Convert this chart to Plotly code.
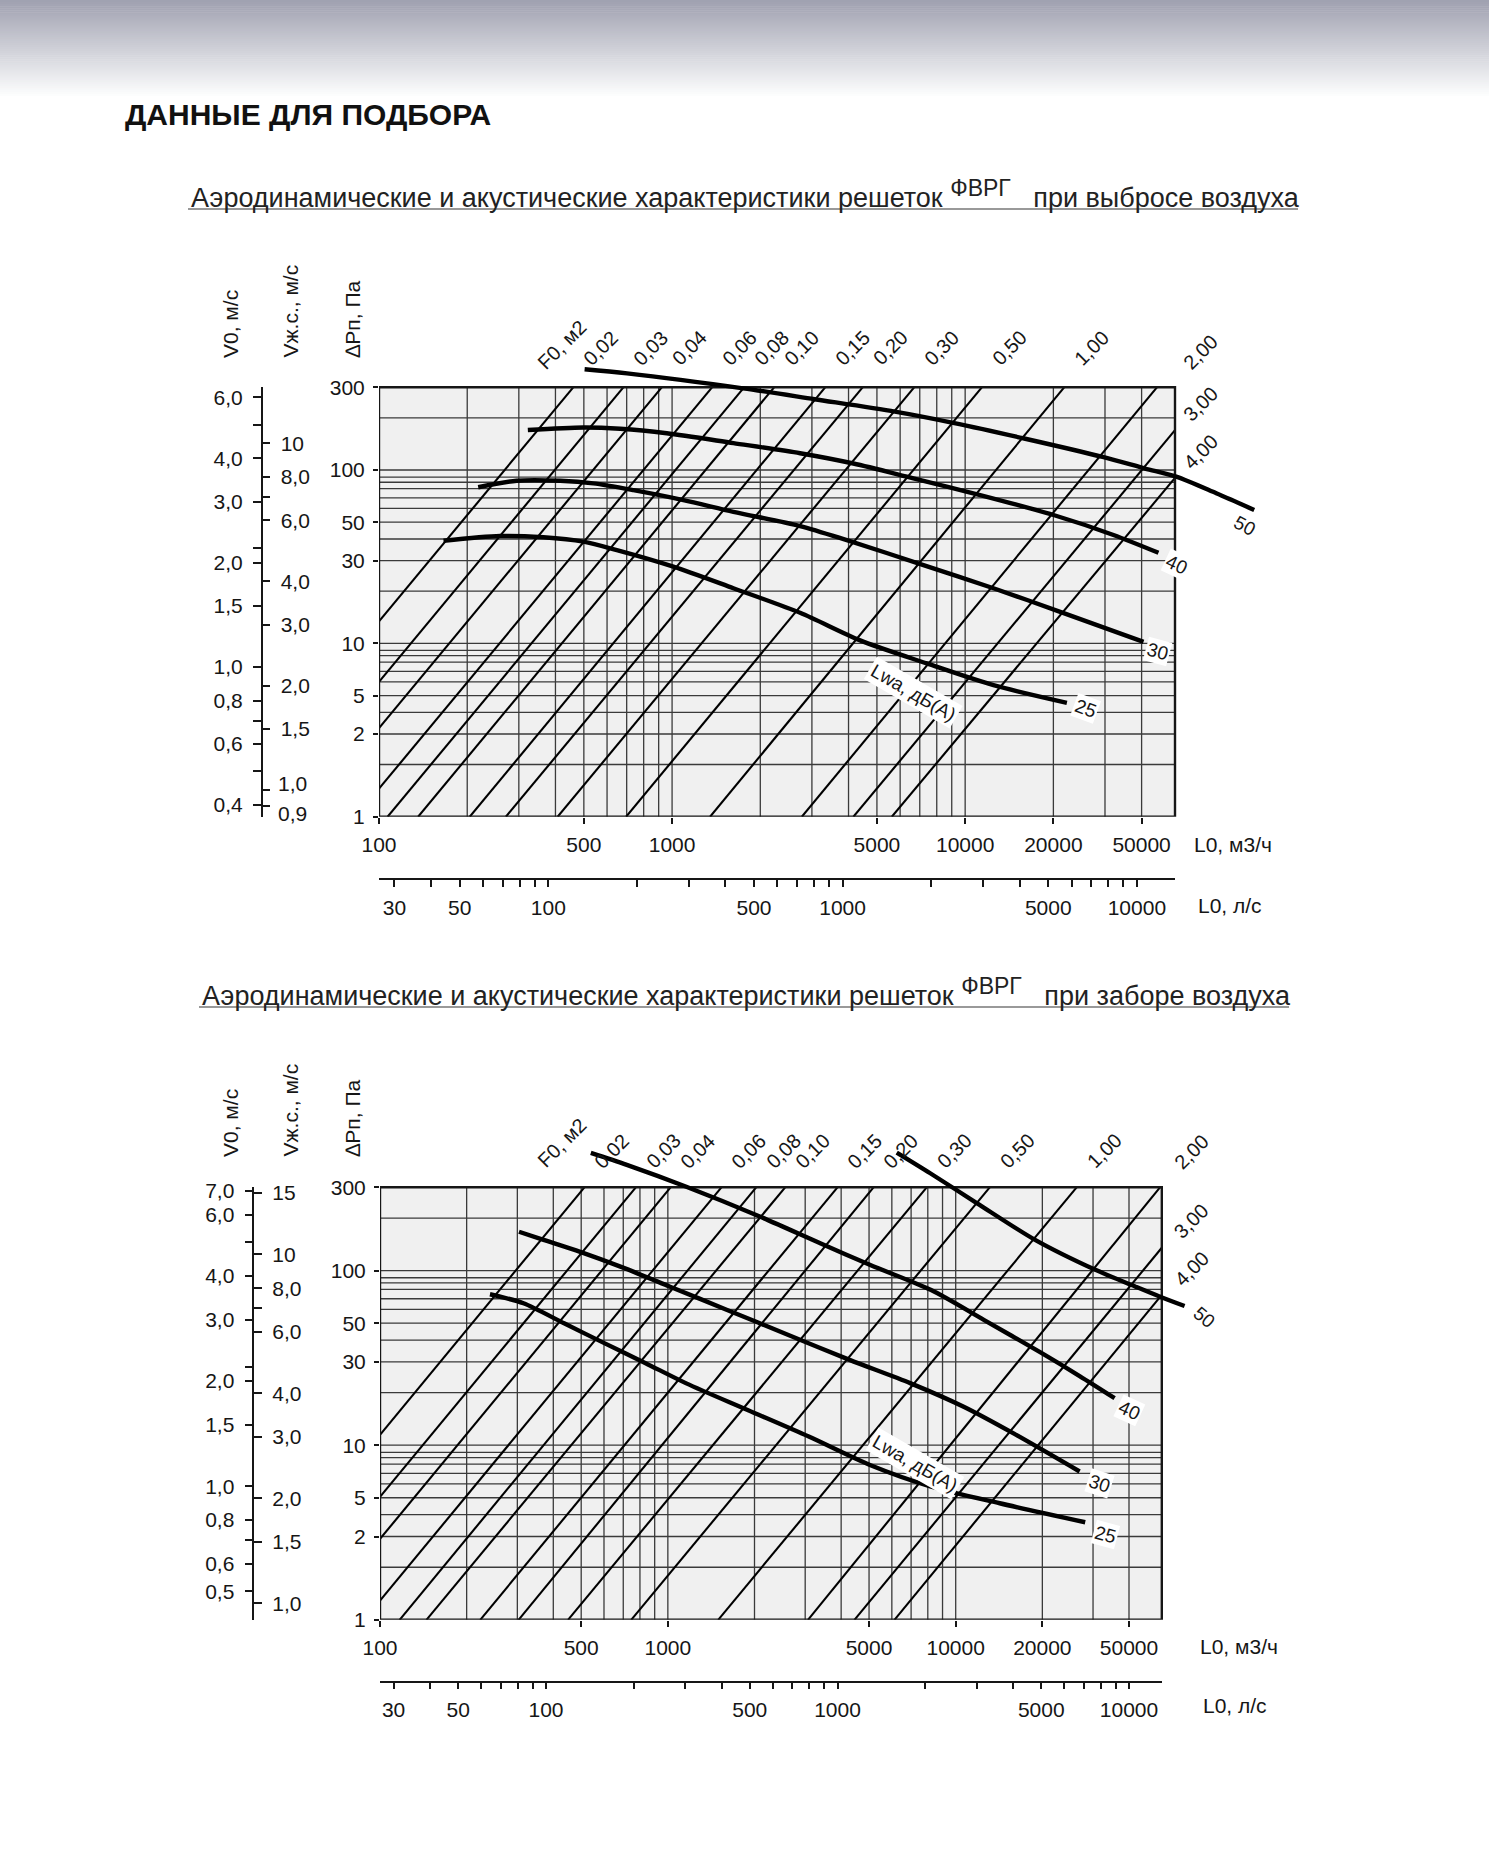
import math
import plotly.graph_objects as go

# ---------------- data ----------------
F0_LABELS = ["0,02", "0,03", "0,04", "0,06", "0,08", "0,10", "0,15",
             "0,20", "0,30", "0,50", "1,00", "2,00", "3,00", "4,00"]

# L0 (m3/h) where each F0 line reaches dPn = 300 Pa and dPn = 1 Pa
SUPPLY_F0_L_300PA = [460, 682, 922, 1369, 1761, 2229, 3329, 4468, 6698, 11400, 21770, 45110, 68800, 94300]
SUPPLY_F0_L_1PA = [28.0, 41.5, 56.1, 83.3, 107, 136, 204, 271, 407, 697, 1348, 2772, 4157, 5621]
EXHAUST_F0_L_300PA = [513, 774, 1022, 1535, 2027, 2556, 3884, 5183, 7931, 13130, 26310, 51260, 77560, 105600]
EXHAUST_F0_L_1PA = [29.5, 44.4, 58.6, 88.1, 117, 145, 223, 303, 450, 746, 1496, 3068, 4449, 6127]

LWA_LEVELS = ["50", "40", "30", "25"]

# supply (при выбросе воздуха) Lwa curves: L0 m3/h, dPn Pa
SUPPLY_LWA50_L = [503, 702, 1747, 3064, 5760, 9093, 15900, 29440, 41090, 52500, 71900, 96900]
SUPPLY_LWA50_DP = [381, 361, 296, 256, 217, 187, 152, 119, 102, 91.5, 73.4, 58.8]
SUPPLY_LWA40_L = [322, 498, 665, 959, 1619, 2734, 4157, 6660, 11250, 20020, 32070, 45670]
SUPPLY_LWA40_DP = [170, 176, 173, 163, 143, 125, 109, 89.5, 71.7, 55.0, 42.2, 33.3]
SUPPLY_LWA30_L = [218, 295, 415, 539, 738, 1093, 1619, 2734, 3947, 7206, 12490, 21100, 40610]
SUPPLY_LWA30_DP = [79.5, 86.7, 86.7, 83.8, 76.6, 67.1, 57.4, 47.5, 39.4, 28.3, 20.8, 15.2, 10.2]
SUPPLY_LWA25_L = [166, 259, 364, 498, 648, 1010, 1619, 2734, 4381, 7401, 12490, 22240]
SUPPLY_LWA25_DP = [39.1, 41.6, 40.9, 38.6, 34.5, 27.7, 20.8, 15.0, 10.4, 7.66, 5.74, 4.54]

# exhaust (при заборе воздуха) Lwa curves
EXHAUST_LWA50_L = [6239, 8156, 11870, 18870, 30560, 42150, 51260, 62400]
EXHAUST_LWA50_DP = [474, 361, 243, 150, 101, 80.9, 70.9, 62.7]
EXHAUST_LWA40_L = [540, 720, 1159, 2086, 3399, 5028, 8214, 12560, 19570, 26950, 35650]
EXHAUST_LWA40_DP = [472, 403, 302, 204, 143, 108, 77.4, 52.1, 34.2, 24.9, 18.6]
EXHAUST_LWA30_L = [304, 370, 496, 688, 1018, 1607, 2623, 4279, 6978, 10660, 16000, 26950]
EXHAUST_LWA30_DP = [167, 150, 128, 105, 80.9, 59.5, 42.8, 30.8, 22.6, 16.6, 11.6, 7.07]
EXHAUST_LWA25_L = [241, 315, 436, 604, 837, 1159, 1893, 3088, 5036, 8214, 14220, 28180]
EXHAUST_LWA25_DP = [73.2, 65.0, 49.9, 38.3, 29.5, 22.6, 15.9, 11.2, 7.70, 5.79, 4.65, 3.62]

# scales
L_MIN, L_MAX = 100, 52000
DP_MIN, DP_MAX = 1, 300
L_GRID = [200, 300, 400, 500, 600, 700, 800, 900, 1000, 2000, 3000, 4000, 5000,
          6000, 7000, 8000, 9000, 10000, 20000, 30000, 40000]
DP_GRID = [2, 3, 4, 5, 6.0, 6.9, 7.8, 8.5, 9.1, 10, 20, 30, 40, 50, 60, 69, 78, 85, 91, 100, 200]
L_TICKS = [100, 500, 1000, 5000, 10000, 20000, 40000]
L_TICK_TEXT = ["100", "500", "1000", "5000", "10000", "20000", "50000"]
DP_TICKS = [1, 3, 5, 10, 30, 50, 100, 300]
DP_TICK_TEXT = ["1", "2", "5", "10", "30", "50", "100", "300"]
LS_TICKS = [30, 40, 50, 60, 70, 80, 90, 100, 200, 300, 400, 500, 600, 700, 800, 900,
            1000, 2000, 3000, 4000, 5000, 6000, 7000, 8000, 9000, 10000]
LS_TICK_TEXT = ["30", "", "50", "", "", "", "", "100", "", "", "", "500", "", "", "", "",
                "1000", "", "", "", "5000", "", "", "", "", "10000"]
SUPPLY_V0_TICKS = [6.0, 5.0, 4.0, 3.0, 2.2, 2.0, 1.5, 1.0, 0.8, 0.7, 0.6, 0.5, 0.4]
SUPPLY_V0_TEXT = ["6,0", "", "4,0", "3,0", "", "2,0", "1,5", "1,0", "0,8", "", "0,6", "", "0,4"]
SUPPLY_VJS_TICKS = [10, 8.0, 7.0, 6.0, 4.0, 3.0, 2.0, 1.5, 1.0, 0.9]
SUPPLY_VJS_TEXT = ["10", "8,0", "", "6,0", "4,0", "3,0", "2,0", "1,5", "", ""]
SUPPLY_VJS_SEPARATE = [(1.0, "1,0", 6), (0.9, "0,9", -8)]   # labels nudged apart as in the original
EXHAUST_V0_TICKS = [7.0, 6.0, 5.0, 4.0, 3.0, 2.2, 2.0, 1.5, 1.0, 0.8, 0.7, 0.6, 0.5]
EXHAUST_V0_TEXT = ["7,0", "6,0", "", "4,0", "3,0", "", "2,0", "1,5", "1,0", "0,8", "", "0,6", "0,5"]
EXHAUST_VJS_TICKS = [15, 10, 8.0, 7.0, 6.0, 4.0, 3.0, 2.0, 1.5, 1.0]
EXHAUST_VJS_TEXT = ["15", "10", "8,0", "", "6,0", "4,0", "3,0", "2,0", "1,5", "1,0"]

# ---------------- styling / layout ----------------
W, H = 1489, 1850
FONT = "Liberation Sans, Arial, Helvetica, sans-serif"
INK = "#161616"
GRID = "#3a3a3a"
FS = 21


def px(x):
    return x / W


def py(y):
    return 1 - y / H


def akey(name):
    return ("xaxis" if name[0] == "x" else "yaxis") + name[1:]


SUP = "<sup><span style='font-size:23px'>ФВРГ</span></sup>"
CHARTS = [
    dict(x="x", y="y", xls="x2", yv0="y2", yvj="y3",
         frame=(379, 1175, 387.3, 816.7), ext=(1300, 320),
         ls_range=(1.4247, 4.1295), ls_y=879.3, v_x=261.7,
         v0_range=(-0.432, 0.807), vj_range=(-0.0773, 1.1616),
         v0=(SUPPLY_V0_TICKS, SUPPLY_V0_TEXT), vj=(SUPPLY_VJS_TICKS, SUPPLY_VJS_TEXT),
         vj_extra=SUPPLY_VJS_SEPARATE,
         f0=(SUPPLY_F0_L_1PA, SUPPLY_F0_L_300PA), f0_yshift=15, col_xshift=1,
         curves=[(SUPPLY_LWA50_L, SUPPLY_LWA50_DP), (SUPPLY_LWA40_L, SUPPLY_LWA40_DP),
                 (SUPPLY_LWA30_L, SUPPLY_LWA30_DP), (SUPPLY_LWA25_L, SUPPLY_LWA25_DP)],
         lab_style=[(-10, -16, 28), (18, -12, 25), (14, -10, 15), (19, -6, 20)],
         lwa_label=(913, 693),
         subtitle="Аэродинамические и акустические характеристики решеток " + SUP + "\u00a0\u00a0 при выбросе воздуха",
         sub_pos=(189, 194, 1298, 209),
         titles_bottom=360, f0_title=(530, 376),
         unit_m3=(1192, 844), unit_ls=(1196, 905)),
    dict(x="x3", y="y4", xls="x4", yv0="y5", yvj="y6",
         frame=(380, 1161.8, 1187.3, 1619.8), ext=(1300, 1120),
         ls_range=(1.4305, 4.1125), ls_y=1681.5, v_x=253.3,
         v0_range=(-0.3825, 0.8561), vj_range=(-0.0467, 1.1919),
         v0=(EXHAUST_V0_TICKS, EXHAUST_V0_TEXT), vj=(EXHAUST_VJS_TICKS, EXHAUST_VJS_TEXT),
         vj_extra=[],
         f0=(EXHAUST_F0_L_1PA, EXHAUST_F0_L_300PA), f0_yshift=12, col_xshift=5,
         curves=[(EXHAUST_LWA50_L, EXHAUST_LWA50_DP), (EXHAUST_LWA40_L, EXHAUST_LWA40_DP),
                 (EXHAUST_LWA30_L, EXHAUST_LWA30_DP), (EXHAUST_LWA25_L, EXHAUST_LWA25_DP)],
         lab_style=[(20, -11, 40), (15, -12, 25), (20, -12, 18), (20, -12, 15)],
         lwa_label=(915, 1500),
         subtitle="Аэродинамические и акустические характеристики решеток " + SUP + "\u00a0\u00a0 при заборе воздуха",
         sub_pos=(200, 992, 1289, 1007),
         titles_bottom=1159, f0_title=(530, 1174),
         unit_m3=(1198, 1646), unit_ls=(1201, 1705)),
]

fig = go.Figure()
layout = {}
annotations = []
shapes = []

# gradient band at the top of the page
n_bands = 48
for i in range(n_bands):
    t = i / (n_bands - 1)
    c = [int(160 + (255 - 160) * t), int(162 + (255 - 162) * t), int(177 + (255 - 177) * t)]
    y0 = 98 * i / n_bands
    y1 = 98 * (i + 1) / n_bands + 0.6
    shapes.append(dict(type="rect", xref="paper", yref="paper", x0=0, x1=1, y0=py(y1), y1=py(y0),
                       fillcolor=f"rgb({c[0]},{c[1]},{c[2]})", line=dict(width=0), layer="below"))

annotations.append(dict(text="<b>ДАННЫЕ ДЛЯ ПОДБОРА</b>", xref="paper", yref="paper",
                        x=px(123), y=py(114), xanchor="left", yanchor="middle", showarrow=False,
                        font=dict(family=FONT, size=30, color="#111")))

lx0, lx1 = math.log10(L_MIN), math.log10(L_MAX)
ly0, ly1 = math.log10(DP_MIN), math.log10(DP_MAX)

for cfg in CHARTS:
    ax, ay = cfg["x"], cfg["y"]
    x0, x1, yt, yb = cfg["frame"]
    xe, ye = cfg["ext"]
    ppx = (x1 - x0) / (lx1 - lx0)
    ppy = (yb - yt) / (ly1 - ly0)
    tick_font = dict(family=FONT, size=FS, color=INK)

    layout[akey(ax)] = dict(type="log", domain=[px(x0), px(xe)], range=[lx0, lx0 + (xe - x0) / ppx],
                            anchor=ay, showgrid=False, zeroline=False, showline=False, automargin=False,
                            ticks="outside", ticklen=6, tickwidth=1.5, tickcolor=INK,
                            tickvals=L_TICKS, ticktext=L_TICK_TEXT, tickfont=tick_font,
                            ticklabelstandoff=3)
    layout[akey(ay)] = dict(type="log", domain=[py(yb), py(ye)], range=[ly0, ly0 + (yb - ye) / ppy],
                            anchor=ax, showgrid=False, zeroline=False, showline=False, automargin=False,
                            ticks="outside", ticklen=5, tickwidth=1.5, tickcolor=INK,
                            tickvals=DP_TICKS, ticktext=DP_TICK_TEXT, tickfont=tick_font,
                            ticklabelstandoff=4)
    layout[akey(cfg["xls"])] = dict(type="log", domain=[px(x0), px(x1)], range=list(cfg["ls_range"]),
                                    anchor="free", position=py(cfg["ls_y"]), side="bottom",
                                    showgrid=False, zeroline=False, showline=True, linecolor=INK,
                                    automargin=False,
                                    linewidth=1.5, ticks="outside", ticklen=7, tickwidth=1.5,
                                    tickcolor=INK, tickvals=LS_TICKS, ticktext=LS_TICK_TEXT,
                                    tickfont=tick_font, ticklabelstandoff=3)
    for key, side, rng, tv in ((cfg["yv0"], "left", cfg["v0_range"], cfg["v0"]),
                               (cfg["yvj"], "right", cfg["vj_range"], cfg["vj"])):
        layout[akey(key)] = dict(type="log", domain=[py(yb), py(yt)], range=list(rng),
                                 anchor="free", position=px(cfg["v_x"]), side=side,
                                 showgrid=False, zeroline=False, showline=True, linecolor=INK,
                                 automargin=False,
                                 linewidth=1.5, ticks="outside", ticklen=8, tickwidth=1.5,
                                 tickcolor=INK, tickvals=tv[0], ticktext=tv[1], tickfont=tick_font,
                                 ticklabelstandoff=6)
    for val, txt, shift in cfg["vj_extra"]:
        annotations.append(dict(text=txt, x=px(cfg["v_x"] + 14), y=math.log10(val), xref="paper",
                                yref=cfg["yvj"], xanchor="left", yanchor="middle", yshift=shift,
                                showarrow=False, font=tick_font))
    # anchors for the auxiliary axes (invisible)
    for xa, ya in ((cfg["xls"], ay), (ax, cfg["yv0"]), (ax, cfg["yvj"])):
        fig.add_trace(go.Scatter(x=[1000], y=[1], xaxis=xa, yaxis=ya, mode="markers",
                                 marker=dict(opacity=0, size=1), hoverinfo="skip", showlegend=False))

    common = dict(xaxis=ax, yaxis=ay, hoverinfo="skip", showlegend=False)
    # frame background
    fig.add_trace(go.Scatter(x=[L_MIN, L_MAX, L_MAX, L_MIN, L_MIN],
                             y=[DP_MIN, DP_MIN, DP_MAX, DP_MAX, DP_MIN],
                             mode="lines", fill="toself", fillcolor="#f0f0f0",
                             line=dict(width=0), **common))
    # grid
    gx, gy = [], []
    for v in L_GRID:
        gx += [v, v, None]
        gy += [DP_MIN, DP_MAX, None]
    for h in DP_GRID:
        gx += [L_MIN, L_MAX, None]
        gy += [h, h, None]
    fig.add_trace(go.Scatter(x=gx, y=gy, mode="lines", line=dict(color=GRID, width=1.3), **common))

    # F0 lines, clipped to the frame
    fx, fy = [], []
    l1pa, l300 = cfg["f0"]
    for lab, a, b in zip(F0_LABELS, l1pa, l300):
        a0, a1 = math.log10(a), math.log10(b)

        def logl(u):
            return a0 + (a1 - a0) * (u - ly0) / (ly1 - ly0)

        def u_at(lg):
            return ly0 + (lg - a0) / (a1 - a0) * (ly1 - ly0)

        u_lo = max(ly0, u_at(lx0))
        u_hi = min(ly1, u_at(lx1))
        fx += [10 ** logl(u_lo), 10 ** logl(u_hi), None]
        fy += [10 ** u_lo, 10 ** u_hi, None]
        # label
        top_px = x0 + (a1 - lx0) * ppx
        if top_px < x1 - 25:
            annotations.append(dict(text=lab, x=a1, y=ly1, xref=ax, yref=ay, xanchor="left",
                                    yanchor="bottom", xshift=3, yshift=cfg["f0_yshift"],
                                    textangle=-45, showarrow=False,
                                    font=dict(family=FONT, size=20, color=INK)))
        else:
            annotations.append(dict(text=lab, x=lx1, y=u_hi, xref=ax, yref=ay, xanchor="left",
                                    yanchor="bottom", xshift=cfg["col_xshift"],
                                    yshift=(11 if u_hi >= ly1 - 1e-9 else 2),
                                    textangle=-45, showarrow=False,
                                    font=dict(family=FONT, size=20, color=INK)))
    fig.add_trace(go.Scatter(x=fx, y=fy, mode="lines", line=dict(color="#000", width=2.1), **common))

    # frame border
    fig.add_trace(go.Scatter(x=[L_MIN, L_MAX, L_MAX, L_MIN, L_MIN],
                             y=[DP_MIN, DP_MIN, DP_MAX, DP_MAX, DP_MIN],
                             mode="lines", line=dict(color=INK, width=2.4), **common))

    # Lwa curves
    for lev, (cl, cp), (xs, ys, ang) in zip(LWA_LEVELS, cfg["curves"], cfg["lab_style"]):
        fig.add_trace(go.Scatter(x=cl, y=cp, mode="lines",
                                 line=dict(color="#000", width=4.4, shape="spline", smoothing=0.8),
                                 **common))
        annotations.append(dict(text=lev, x=math.log10(cl[-1]), y=math.log10(cp[-1]), xref=ax, yref=ay,
                                xshift=xs, yshift=ys, textangle=ang, showarrow=False,
                                bgcolor="white", borderpad=1,
                                font=dict(family=FONT, size=19, color=INK)))
    lx, lyy = cfg["lwa_label"]
    annotations.append(dict(text="Lwa, дБ(А)", x=px(lx), y=py(lyy), xref="paper", yref="paper",
                            textangle=30, showarrow=False, bgcolor="white", borderpad=2,
                            font=dict(family=FONT, size=19, color=INK)))

    # titles of the vertical scales
    tb = cfg["titles_bottom"]
    for txt, xx in (("V0, м/с", 230), ("Vж.с., м/с", 290), ("∆Рп, Па", 352)):
        annotations.append(dict(text=txt, x=px(xx), y=py(tb), xref="paper", yref="paper",
                                xanchor="center", yanchor="bottom", textangle=-90, showarrow=False,
                                font=dict(family=FONT, size=FS, color=INK)))
    fx0, fy0 = cfg["f0_title"]
    annotations.append(dict(text="F0, м2", x=px(fx0), y=py(fy0), xref="paper", yref="paper",
                            xanchor="left", yanchor="bottom", textangle=-45, showarrow=False,
                            font=dict(family=FONT, size=20, color=INK)))
    for txt, (ux, uy) in (("L0, м3/ч", cfg["unit_m3"]), ("L0, л/с", cfg["unit_ls"])):
        annotations.append(dict(text=txt, x=px(ux), y=py(uy), xref="paper", yref="paper",
                                xanchor="left", yanchor="middle", showarrow=False,
                                font=dict(family=FONT, size=FS, color=INK)))
    # subtitle with underline
    sx, sy, ux1, uy1 = cfg["sub_pos"]
    annotations.append(dict(text=cfg["subtitle"], x=px(sx), y=py(sy), xref="paper", yref="paper",
                            xanchor="left", yanchor="middle", showarrow=False,
                            font=dict(family=FONT, size=27, color="#222")))
    shapes.append(dict(type="line", xref="paper", yref="paper", x0=px(sx - 1), x1=px(ux1),
                       y0=py(uy1), y1=py(uy1), line=dict(color="#777", width=1.6)))

fig.update_layout(
    width=W, height=H, autosize=False,
    margin=dict(l=0, r=0, t=0, b=0, pad=0, autoexpand=False),
    paper_bgcolor="white", plot_bgcolor="rgba(0,0,0,0)",
    showlegend=False, font=dict(family=FONT, color=INK),
    annotations=annotations, shapes=shapes,
    **layout,
)

fig.write_html(
    "out.html",
    post_script=("document.documentElement.style.margin='0';document.body.style.margin='0';"
                 "document.body.style.padding='0';document.documentElement.style.overflow='hidden';"
                 "document.body.style.overflow='hidden';"),
)
